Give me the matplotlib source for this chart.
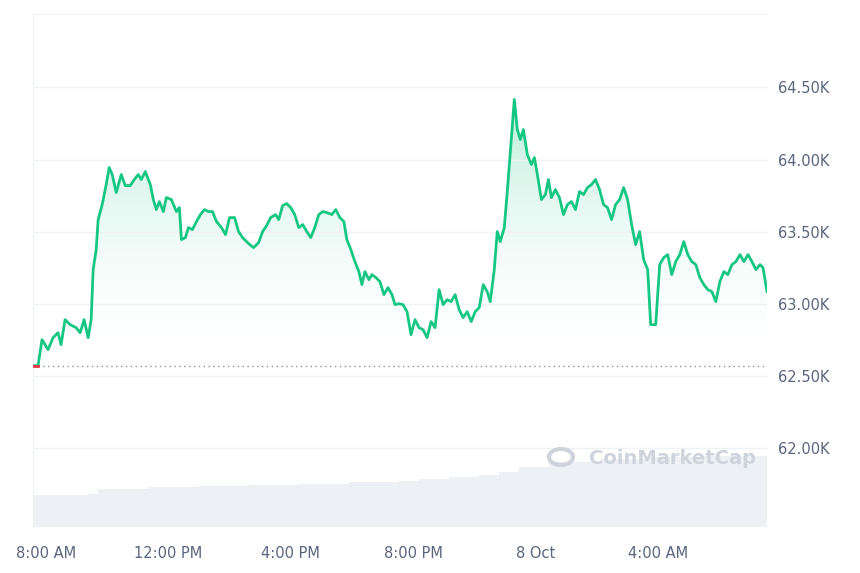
import numpy as np
import matplotlib
matplotlib.use("Agg")
import matplotlib.pyplot as plt
from matplotlib.patches import Circle
from matplotlib.colors import LinearSegmentedColormap

# ---- data ----
px = [35,40,44,50,55,60,63,67,72,78,82,86,90,93,95,98,100,104,108,111,114,118,123,127,132,136,140,143,147,152,155,158,161,165,168,173,178,181,183,187,190,194,198,202,206,210,214,218,223,227,231,236,240,244,250,255,260,264,268,272,277,280,284,288,292,296,300,304,308,312,316,320,324,328,333,337,341,345,348,352,356,360,363,366,370,373,377,381,385,389,393,396,400,404,408,412,416,420,424,428,432,436,440,444,448,452,456,460,464,468,472,476,480,484,488,491,495,498,501,505,508,512,515,518,521,524,528,532,535,538,542,546,549,552,556,560,564,568,572,576,580,584,588,592,596,600,604,608,612,616,620,624,628,632,636,640,644,648,651,656,660,664,668,672,676,680,684,688,692,696,700,704,708,712,716,720,724,728,732,736,740,744,748,752,756,760,763,767]
py = [366,366,340,350,338,333,345,320,325,328,333,320,338,320,270,250,220,205,185,168,175,193,175,186,186,180,175,180,172,185,200,210,202,212,198,200,212,208,240,238,228,230,222,215,210,212,212,222,228,235,218,218,232,238,244,248,243,232,226,218,215,220,206,204,208,215,228,225,232,238,228,215,212,213,215,210,218,222,240,250,262,272,285,272,280,275,278,282,295,288,295,305,304,305,312,335,320,328,330,338,322,328,290,305,300,302,295,310,318,312,322,312,308,285,292,302,270,232,242,228,192,140,100,130,140,130,155,165,158,175,200,195,180,198,190,198,215,205,202,210,192,195,188,185,180,190,205,208,220,205,200,188,200,225,245,232,260,270,325,325,265,258,255,275,262,255,242,255,262,265,278,285,290,292,302,282,272,275,265,262,255,262,255,262,270,265,268,292]
hours = [(x - 48) / 30.5 + 8 for x in px]           # hours since midnight (day 0)
price = [64.5 - (y - 88) / 144 for y in py]          # thousands USD

vol_hours = [(x - 48) / 30.5 + 8 for x in [35,60,90,100,150,200,250,300,350,400,420,450,480,500,520,550,600,650,700,767]]
volume = [32,32,33,38,40,41,42,43,45,46,48,50,52,55,60,65,68,70,71,72]

green = "#16c784"
grey = "#58667e"

fig = plt.figure(figsize=(8.6, 5.73), dpi=100)
ax = fig.add_axes([33/860, 46/573, 734/860, 513/573])
t0, t1 = hours[0], hours[-1]
ylo, yhi = 61.45, 65.01
ax.set_xlim(t0, t1)
ax.set_ylim(ylo, yhi)

axv = ax.twinx()
axv.set_ylim(0, 513)
axv.bar(vol_hours[:-1], volume[:-1], width=np.diff(vol_hours), align="edge",
        color="#edf0f4", linewidth=0, zorder=0)
axv.set_yticks([])
for s in axv.spines.values():
    s.set_visible(False)
ax.set_zorder(axv.get_zorder() + 1)
ax.patch.set_visible(False)

base = price[0]
grad = np.linspace(0, 1, 256).reshape(-1, 1)
cmap = LinearSegmentedColormap.from_list("g", [(1, 1, 1, 0), (0.086, 0.78, 0.52, 0.3)])
top = max(price)
im = ax.imshow(grad, extent=[t0, t1, base, top], origin="lower", aspect="auto", cmap=cmap, zorder=1)
poly = ax.fill_between(hours, price, base, color="none")
im.set_clip_path(poly.get_paths()[0], transform=ax.transData)

ax.plot(hours, price, color=green, lw=2, zorder=3)
ax.axhline(base, color="#8a94a6", lw=1, ls=(0, (1, 2.5)), zorder=2)
ax.plot(hours[:2], price[:2], color="#ea3943", lw=2, zorder=4)

yt = [62.0, 62.5, 63.0, 63.5, 64.0, 64.5]
ax.set_yticks(yt)
ax.set_yticklabels([f"{v:.2f}K" for v in yt])
ax.yaxis.tick_right()
ax.grid(axis="y", color="#eff2f5", lw=1)
xt = [8, 12, 16, 20, 24, 28]
ax.set_xticks(xt)
ax.set_xticklabels(["8:00 AM", "12:00 PM", "4:00 PM", "8:00 PM", "8 Oct", "4:00 AM"])
ax.tick_params(length=0, labelsize=10.5, colors=grey, pad=8)
ax.tick_params(axis="x", pad=14)
for k, s in ax.spines.items():
    s.set_visible(k in ("left", "top"))
    s.set_color("#eff2f5")

fig.patches.append(Circle((561/860, 1 - 457/573), 12/860, transform=fig.transFigure,
                          fill=False, ec="#cfd4dc", lw=3))
fig.text(589/860, 1 - 459/573, "CoinMarketCap", fontsize=14, color="#cfd4dc",
         fontweight="semibold", va="center")

fig.savefig("out.png", dpi=100)
